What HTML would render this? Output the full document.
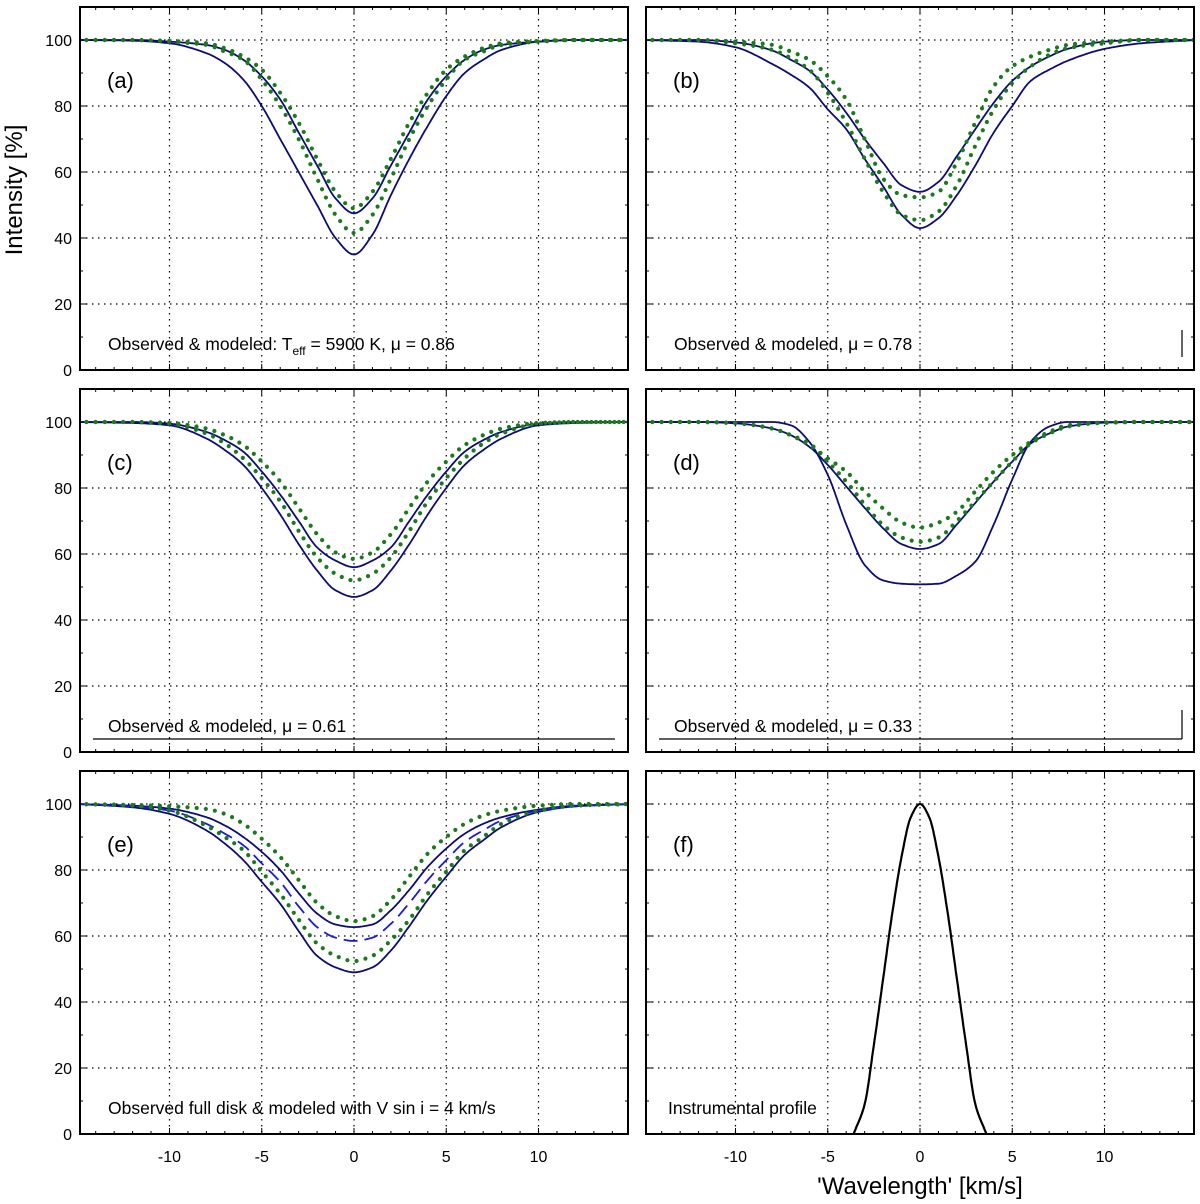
<!DOCTYPE html>
<html><head><meta charset="utf-8"><style>
body{margin:0;background:#fff}
svg{display:block;font-family:"Liberation Sans",Arial,sans-serif}
</style></head><body>
<svg id="chart" width="1200" height="1204" viewBox="0 0 1200 1204" xmlns="http://www.w3.org/2000/svg">
<text x="22" y="190" font-size="24" text-anchor="middle" transform="rotate(-90 22 190)">Intensity [%]</text>
<text x="920" y="1194" font-size="24" text-anchor="middle">'Wavelength'  [km/s]</text>
</svg>
<script>
const xs = [-15,-12,-10,-8,-7,-6,-5,-4,-3,-2,-1,0,1,2,3,4,5,6,7,8,10,12,15];
const aOuter = [100,99.8,99,96,93,88,80,70,60,50,40,35,41,53,64,74,83,90,94,97,99.5,100,100];
const aInner = [100,100,99.5,98.5,97,94,89,82,72,62,52,47.5,52,62,72,82,89,94,97,98.5,99.5,100,100];
const aObsUp = [100,100,99.7,99,97.5,95,91,84,75,64,54,49,54,64,75,84,91,95,97.5,99,99.7,100,100];
const aObsLo = [100,100,99.5,98.5,96.5,94,88,80,70,58,47,41.5,47,58,70,80,88,94,96.5,98.5,99.5,100,100];
const bOuter = [100,99.5,97.8,92.7,89.5,85.6,79,73,64,55.7,47,43,46,53,62,72,80,87.6,91,93.7,97.3,99,100];
const bInner = [100,100,99.3,96.8,94,90.7,85,78,70,62.8,56,54,57,64.8,73,81,87.6,92,95,97.3,99.5,100,100];
const bObsUp = [100,100,99.5,98.5,96.5,94,89,82,70,58,53,52.3,54,63,75,86,92,95,97,98.5,99.5,100,100];
const bObsLo = [100,100,99,97,94.5,91,84,75,64,54,47,45.4,48,56,68,79,87,92,95.5,97.5,99,100,100];
const cOuter = [100,99.7,99,95,91.5,87,80,72,63,55,49,47,49,55,63,72,80,87,91.5,95,99,99.7,100];
const cInner = [100,100,99.5,97,94.5,91,85,78,70,62,58,56,58,62,70,78,85,91,94.5,97,99.5,100,100];
const cObsUp = [100,100,99.7,98,96,93,88,82,74,66,60.5,58.5,60.5,66,74,82,88,93,96,98,99.7,100,100];
const cObsLo = [100,100,99.5,96.5,93.5,89,83,76,67,59,54,52,54,59,67,76,83,89,93.5,96.5,99.5,100,100];
const dBox = [100,100,100,100,99,94,84,69,56.7,52,51,50.8,51,53.5,57.7,69,82.6,94,98.6,100,100,100,100];
const dRound = [100,100,99.6,98,96,92.5,87,80.5,74,67.8,63,61.5,63,69,75.5,82,88,93.5,96.5,98.6,99.8,100,100];
const dObsUp = [100,100,99.7,98,96,93,89,85,79,73.8,69.5,68,69.5,72.8,79,85,90,94,97,99,99.8,100,100];
const dObsLo = [100,100,99.6,98,96,93.5,88,82,75,68.8,65,63.7,65,70,76,82,88,93.5,96.5,98.6,99.8,100,100];
const eOuter = [100,99,97,92,88,83,76.4,69.8,61.5,54,50.5,49,50.5,55.6,63,71,78,84.6,89,93,97.6,99.3,100];
const eInner = [100,99.5,98.6,96,93.5,90,85.5,80,73,66.8,63.5,62.7,63.5,67.8,74,81,86.5,91,94,96,98.3,99.5,100];
const eDashed = [100,99.3,98,94,91,87.5,82,76.4,69,62.7,59.5,58.5,59.5,63.7,70,77,83,88.5,92,95,98,99.3,100];
const eObsUp = [100,99.7,99.3,98.5,97,94,89.5,84,77,70,66,64.5,66,71,78,85,90,94,96.5,98,99.5,100,100];
const eObsLo = [100,99.5,98,93.4,90,86,79.5,72.8,65,57.7,54,52.4,54,58.7,65,72.8,79.5,86,90,94,98,99.5,100];
const fXs = [-3.6,-3,-2.5,-2,-1.5,-1,-0.5,0,0.5,1,1.5,2,2.5,3,3.6];
const fInstr = [0,9,27,47,67,84,96,100,96,84,67,47,27,9,0];
const xTicks = [-10,-5,0,5,10];
const yTicks = [0,20,40,60,80,100];

const NS='http://www.w3.org/2000/svg';
const svg=document.getElementById('chart');
function mk(tag,attrs,parent){const e=document.createElementNS(NS,tag);for(const k in attrs)e.setAttribute(k,attrs[k]);(parent||svg).appendChild(e);return e;}
const XMIN=-14.85,XMAX=14.85,YMIN=0,YMAX=110;
const panels=[
 {id:'a',x0:80,y0:7,lab:true,xl:false},
 {id:'b',x0:646,y0:7,lab:false,xl:false},
 {id:'c',x0:80,y0:389,lab:true,xl:false},
 {id:'d',x0:646,y0:389,lab:false,xl:false},
 {id:'e',x0:80,y0:771,lab:true,xl:true},
 {id:'f',x0:646,y0:771,lab:false,xl:true}];
const W=548,H=363;
function sx(p,v){return p.x0+(v-XMIN)/(XMAX-XMIN)*W;}
function sy(p,v){return p.y0+H-(v-YMIN)/(YMAX-YMIN)*H;}
// monotone cubic (Fritsch-Carlson) interpolation sampled densely
function pathD(p,xv,yv){
 const n=xv.length,h=[],dl=[],m=[];
 for(let i=0;i<n-1;i++){h[i]=xv[i+1]-xv[i];dl[i]=(yv[i+1]-yv[i])/h[i];}
 m[0]=dl[0];m[n-1]=dl[n-2];
 for(let i=1;i<n-1;i++){
  if(dl[i-1]*dl[i]<=0)m[i]=0;
  else{const w1=2*h[i]+h[i-1],w2=h[i]+2*h[i-1];m[i]=(w1+w2)/(w1/dl[i-1]+w2/dl[i]);}
 }
 let d='';
 for(let i=0;i<n-1;i++){
  const N=16;
  for(let k=(i===0?0:1);k<=N;k++){
   const t=k/N,t2=t*t,t3=t2*t;
   const y=(2*t3-3*t2+1)*yv[i]+(t3-2*t2+t)*h[i]*m[i]+(-2*t3+3*t2)*yv[i+1]+(t3-t2)*h[i]*m[i+1];
   const x=xv[i]+t*h[i];
   d+=(d?'L':'M')+sx(p,x).toFixed(1)+','+sy(p,y).toFixed(1);
  }
 }
 return d;
}
const panelDefs={
 a:{series:[[xs,aOuter,'solid'],[xs,aInner,'solid'],[xs,aObsUp,'dot'],[xs,aObsLo,'dot']]},
 b:{series:[[xs,bOuter,'solid'],[xs,bInner,'solid'],[xs,bObsUp,'dot'],[xs,bObsLo,'dot']]},
 c:{series:[[xs,cOuter,'solid'],[xs,cInner,'solid'],[xs,cObsUp,'dot'],[xs,cObsLo,'dot']]},
 d:{series:[[xs,dBox,'solid'],[xs,dRound,'solid'],[xs,dObsUp,'dot'],[xs,dObsLo,'dot']]},
 e:{series:[[xs,eOuter,'solid'],[xs,eInner,'solid'],[xs,eDashed,'dash'],[xs,eObsUp,'dot'],[xs,eObsLo,'dot']]},
 f:{series:[[fXs,fInstr,'black']]}
};
panels.forEach(p=>{
 const g=mk('g',{});
 
 
 const clip=mk('clipPath',{id:'clip'+p.id},g);
 mk('rect',{x:p.x0,y:p.y0,width:W,height:H},clip);
 xTicks.forEach(t=>{const l=mk('line',{x1:sx(p,t),x2:sx(p,t),y1:p.y0,y2:p.y0+H,stroke:'#000','stroke-width':1.2,'stroke-dasharray':'1.5 4.5'},g);
  });
 yTicks.slice(1).forEach(t=>{const l=mk('line',{x1:p.x0,x2:p.x0+W,y1:sy(p,t),y2:sy(p,t),stroke:'#000','stroke-width':1.2,'stroke-dasharray':'1.5 4.5'},g);
  });
 for(let t=-14;t<=14;t++){const L=(t%5===0)?6:3;
  mk('line',{x1:sx(p,t),x2:sx(p,t),y1:p.y0+H,y2:p.y0+H-L,stroke:'#000','stroke-width':1},g);
  mk('line',{x1:sx(p,t),x2:sx(p,t),y1:p.y0,y2:p.y0+L,stroke:'#000','stroke-width':1},g);}
 for(let t=10;t<=100;t+=10){const L=(t%20===0)?6:3;
  mk('line',{x1:p.x0,x2:p.x0+L,y1:sy(p,t),y2:sy(p,t),stroke:'#000','stroke-width':1},g);
  mk('line',{x1:p.x0+W,x2:p.x0+W-L,y1:sy(p,t),y2:sy(p,t),stroke:'#000','stroke-width':1},g);}
 const sg=mk('g',{'clip-path':'url(#clip'+p.id+')'},g);
 panelDefs[p.id].series.forEach((s,i)=>{
  const st={solid:{stroke:'#0c0c78','stroke-width':1.8,fill:'none'},
   dash:{stroke:'#1a1ad8','stroke-width':1.8,fill:'none','stroke-dasharray':'14 7'},
   dot:{stroke:'#1b7a1b','stroke-width':4.2,fill:'none','stroke-dasharray':'0 9.2','stroke-linecap':'round'},
   black:{stroke:'#000','stroke-width':2.2,fill:'none'}}[s[2]];
  const e=mk('path',Object.assign({d:pathD(p,s[0],s[1])},st),sg);
  
  
 });
 const fr=mk('rect',{x:p.x0,y:p.y0,width:W,height:H,fill:'none',stroke:'#000','stroke-width':2},g);
 
 if(p.lab){yTicks.forEach(t=>{const tx=mk('text',{x:p.x0-8,y:sy(p,t)+6,'font-size':16,'text-anchor':'end'},g);tx.textContent=t;
  });}
 if(p.xl){xTicks.forEach(t=>{const tx=mk('text',{x:sx(p,t),y:p.y0+H+28,'font-size':16,'text-anchor':'middle'},g);tx.textContent=t;
  });}
 const pl=mk('text',{x:p.x0+27,y:p.y0+81,'font-size':22},g);pl.textContent='('+p.id+')';
 
});
function ann(x,y,txt){const t=mk('text',{x:x,y:y,'font-size':17.5});t.textContent=txt;
 return t;}
const ta=ann(108,350,'Observed & modeled: T');
const sub=mk('tspan',{'font-size':12,dy:5},ta);sub.textContent='eff';
const rest=mk('tspan',{dy:-5},ta);rest.textContent=' = 5900 K, μ = 0.86';
ann(674,350,'Observed & modeled, μ = 0.78');
ann(108,732,'Observed & modeled, μ = 0.61');
ann(674,732,'Observed & modeled, μ = 0.33');
ann(108,1114,'Observed full disk & modeled with V sin i = 4 km/s');
ann(668,1114,'Instrumental profile');
[[1182,330,1182,357],[93,739,615,739],[659,739,1182,739],[1182,710,1182,739]].forEach(c=>{
 const l=mk('line',{x1:c[0],y1:c[1],x2:c[2],y2:c[3],stroke:'#000','stroke-width':1.2});
 });
</script>
</body></html>
